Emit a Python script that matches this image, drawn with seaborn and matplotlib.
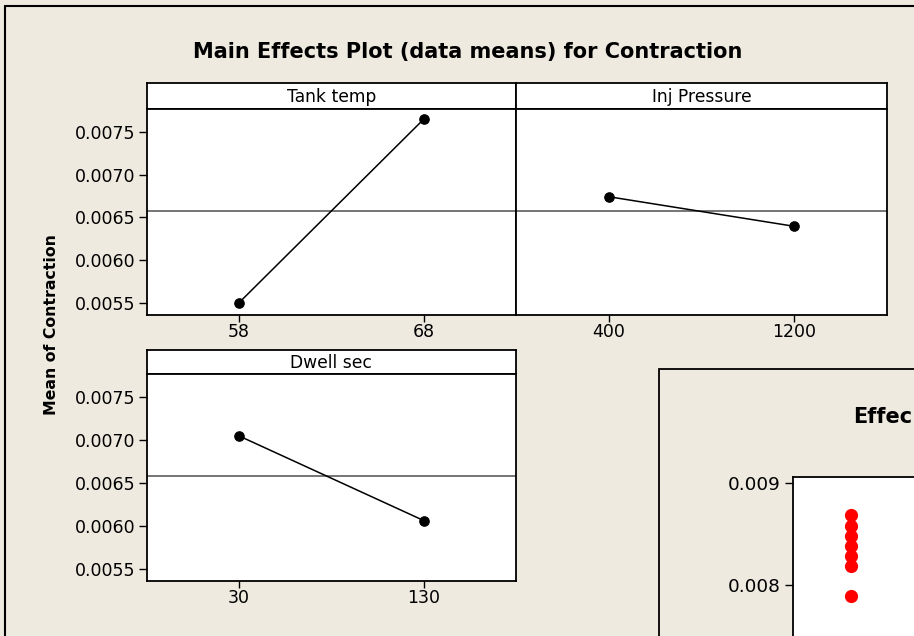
import matplotlib
matplotlib.use("Agg")
import matplotlib.pyplot as plt
import seaborn as sns
import pandas as pd
from matplotlib.patches import Rectangle
from matplotlib.lines import Line2D
from matplotlib.ticker import FormatStrFormatter

# ---- data ----
factors = ["Tank temp", "Inj Pressure", "Dwell sec"]
tank_levels = ["58", "68"]
tank_means = [0.00550, 0.007653]
inj_levels = ["400", "1200"]
inj_means = [0.006744, 0.006397]
dwell_levels = ["30", "130"]
dwell_means = [0.007050, 0.006062]
grand_mean = 0.006577
y_ticks = [0.0055, 0.0060, 0.0065, 0.0070, 0.0075]

effect_values = [0.008685, 0.008581, 0.008483, 0.008386, 0.008289, 0.008191, 0.007893]
effect_ticks = [0.008, 0.009]

BG = "#EEEAE0"
W, H = 914, 636

sns.set_theme(style="white")
plt.rcParams["font.family"] = ["DejaVu Sans"]
plt.rcParams["text.color"] = "black"
plt.rcParams["axes.labelcolor"] = "black"
plt.rcParams["xtick.color"] = "black"
plt.rcParams["ytick.color"] = "black"

fig = plt.figure(figsize=(W / 100, H / 100), dpi=100)
fig.patch.set_facecolor(BG)


def px_axes(x0, y0, x1, y1):
    return fig.add_axes([x0 / W, 1 - y1 / H, (x1 - x0) / W, (y1 - y0) / H])


def panel(x0, x1, strip_top, plot_top, plot_bottom, name, levels, means, show_y):
    strip = px_axes(x0, strip_top, x1, plot_top)
    strip.set_facecolor("white")
    strip.set_xticks([])
    strip.set_yticks([])
    for s in strip.spines.values():
        s.set_color("black")
        s.set_linewidth(1.3)
    strip.text(0.5, 0.47, name, ha="center", va="center", fontsize=12.3,
               color="black", transform=strip.transAxes)

    ax = px_axes(x0, plot_top, x1, plot_bottom)
    ax.set_facecolor("white")
    df = pd.DataFrame({"level": levels, "mean": means})
    ax.axhline(grand_mean, color="#505050", lw=1.1, zorder=1)
    sns.pointplot(data=df, x="level", y="mean", order=levels, color="black",
                  errorbar=None, markersize=6.8, linewidth=1.1, ax=ax)
    ax.set_xlim(-0.5, 1.5)
    ax.set_ylim(0.005356, 0.007773)
    ax.set_yticks(y_ticks)
    ax.yaxis.set_major_formatter(FormatStrFormatter("%.4f"))
    ax.set_xlabel("")
    ax.set_ylabel("")
    for s in ax.spines.values():
        s.set_color("black")
        s.set_linewidth(1.3)
    ax.tick_params(axis="x", direction="out", length=5, width=1, color="black",
                   labelcolor="black", labelsize=12.5, pad=1, bottom=True)
    ax.tick_params(axis="y", direction="out", length=6, width=1, color="black",
                   labelcolor="black", labelsize=12.5, pad=2, left=show_y,
                   labelleft=show_y)
    return ax


panel(146.7, 516, 83, 109, 315, factors[0], tank_levels, tank_means, True)
panel(516, 886.7, 83, 109, 315, factors[1], inj_levels, inj_means, False)
panel(146.7, 516, 350, 374, 581, factors[2], dwell_levels, dwell_means, True)

fig.text(468 / W, 1 - 52 / H, "Main Effects Plot (data means) for Contraction",
         ha="center", va="center", fontsize=15, fontweight="bold", color="black")
fig.text(52 / W, 1 - 325 / H, "Mean of Contraction", rotation=90,
         ha="center", va="center", fontsize=11.3, fontweight="bold", color="black")

# outer frame (top and left edges visible)
fig.add_artist(Line2D([5 / W, 1.0], [1 - 6 / H, 1 - 6 / H], color="black", lw=1.5,
                      transform=fig.transFigure))
fig.add_artist(Line2D([5 / W, 5 / W], [0.0, 1 - 6 / H], color="black", lw=1.5,
                      transform=fig.transFigure))

# overlapping second window
fig.add_artist(Rectangle((659 / W, -0.2), 0.6, 0.2 + 1 - 369 / H,
                         facecolor=BG, edgecolor="black", lw=1.3,
                         transform=fig.transFigure, zorder=5))

ax2 = fig.add_axes([793.3 / W, 1 - 776.7 / H, 300 / W, 300 / H], zorder=6)
ax2.set_facecolor("white")
sns.stripplot(y=effect_values, color="red", jitter=False, size=9.5, ax=ax2)
ax2.set_xlim(-0.5, 2.1)
ax2.set_ylim(0.006134, 0.009058)
ax2.set_yticks(effect_ticks)
ax2.yaxis.set_major_formatter(FormatStrFormatter("%.3f"))
ax2.set_xticks([])
for s in ax2.spines.values():
    s.set_color("black")
    s.set_linewidth(1.3)
ax2.tick_params(axis="y", direction="out", length=6, width=1, color="black",
                labelcolor="black", labelsize=13.3, pad=3, left=True)
fig.text(853 / W, 1 - 417 / H, "Effec", ha="left", va="center",
         fontsize=15, fontweight="bold", color="black", zorder=7)

fig.savefig("out.png", dpi=100, facecolor=BG)
